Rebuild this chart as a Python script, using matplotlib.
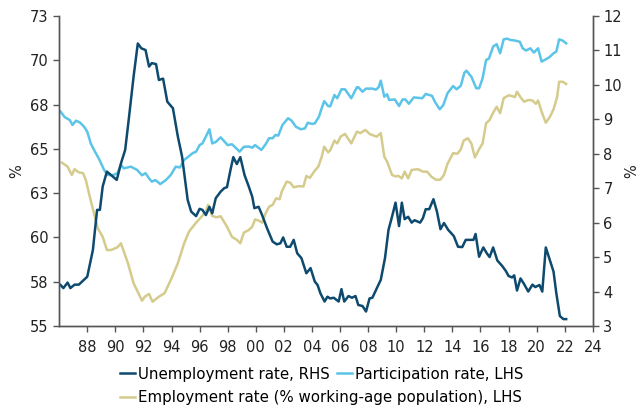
import numpy as np
import matplotlib.pyplot as plt
from matplotlib.ticker import FixedLocator, FormatStrFormatter

# unemployment rate, % (right axis)
unemp_year = [1986.1, 1986.3, 1986.6, 1986.8, 1987.1, 1987.4, 1988.0, 1988.4, 1988.7, 1988.9,
              1989.1, 1989.4, 1989.7, 1990.1, 1990.4, 1990.7, 1990.95, 1991.3, 1991.6, 1991.85,
              1992.15, 1992.4, 1992.6, 1992.9, 1993.1, 1993.4, 1993.7, 1994.1, 1994.45, 1994.75,
              1995.15, 1995.4, 1995.75, 1996.0, 1996.2, 1996.45, 1996.7, 1996.9, 1997.15, 1997.5,
              1997.75, 1997.95, 1998.2, 1998.4, 1998.65, 1998.9, 1999.2, 1999.5, 1999.75, 1999.9,
              2000.2, 2000.45, 2000.8, 2001.2, 2001.5, 2001.75, 2001.95, 2002.2, 2002.45, 2002.7,
              2002.95, 2003.25, 2003.6, 2003.9, 2004.2, 2004.4, 2004.6, 2004.9, 2005.1, 2005.3,
              2005.55, 2005.9, 2006.1, 2006.3, 2006.6, 2006.85, 2007.1, 2007.3, 2007.6, 2007.85,
              2008.1, 2008.3, 2008.9, 2009.2, 2009.45, 2009.7, 2009.95, 2010.2, 2010.4, 2010.6,
              2010.85, 2011.1, 2011.3, 2011.7, 2011.9, 2012.1, 2012.35, 2012.65, 2012.9, 2013.15,
              2013.4, 2013.7, 2014.1, 2014.4, 2014.7, 2014.95, 2015.3, 2015.5, 2015.65, 2015.9,
              2016.2, 2016.45, 2016.65, 2016.9, 2017.2, 2017.55, 2017.8, 2018.0, 2018.25, 2018.4,
              2018.6, 2018.85, 2019.1, 2019.4, 2019.7, 2019.9, 2020.2, 2020.4, 2020.65, 2020.95,
              2021.2, 2021.4, 2021.65, 2021.9, 2022.1]
unemp = [4.19, 4.1, 4.26, 4.1, 4.2, 4.2, 4.43, 5.2, 6.37, 6.37,
         7.05, 7.48, 7.38, 7.24, 7.72, 8.11, 8.98, 10.24, 11.2, 11.06,
         11.01, 10.53, 10.63, 10.6, 10.14, 10.18, 9.51, 9.32, 8.5, 7.92,
         6.66, 6.32, 6.19, 6.4, 6.37, 6.22, 6.46, 6.27, 6.71, 6.9,
         7.0, 7.03, 7.53, 7.9, 7.7, 7.9, 7.38, 7.05, 6.75, 6.42,
         6.46, 6.22, 5.84, 5.45, 5.37, 5.4, 5.57, 5.3, 5.3, 5.5,
         5.11, 4.97, 4.53, 4.68, 4.29, 4.19, 3.95, 3.71, 3.85, 3.8,
         3.82, 3.71, 4.07, 3.71, 3.87, 3.82, 3.87, 3.61, 3.58, 3.42,
         3.8, 3.82, 4.34, 4.97, 5.79, 6.17, 6.58, 5.9, 6.58, 6.1,
         6.17, 6.0, 6.07, 6.0, 6.13, 6.39, 6.39, 6.68, 6.32, 5.81,
         5.99, 5.79, 5.61, 5.3, 5.29, 5.5, 5.5, 5.5, 5.67, 5.01,
         5.28, 5.11, 5.0, 5.28, 4.9, 4.74, 4.6, 4.45, 4.41, 4.47,
         4.03, 4.38, 4.22, 4.0, 4.2, 4.13, 4.19, 4.0, 5.28, 4.9,
         4.58, 3.95, 3.29, 3.2, 3.2]

# participation rate, % (left axis)
part_year = [1986.1, 1986.4, 1986.75, 1986.95, 1987.2, 1987.5, 1987.8, 1988.0, 1988.25, 1988.55,
             1988.85, 1989.2, 1989.45, 1989.8, 1990.15, 1990.4, 1990.6, 1991.1, 1991.55, 1991.9,
             1992.15, 1992.4, 1992.6, 1992.85, 1993.2, 1993.6, 1993.95, 1994.3, 1994.6, 1994.9,
             1995.2, 1995.5, 1995.75, 1996.0, 1996.2, 1996.45, 1996.7, 1996.9, 1997.15, 1997.5,
             1997.8, 1998.0, 1998.3, 1998.5, 1998.85, 1999.15, 1999.5, 1999.75, 1999.95, 2000.4,
             2000.7, 2000.95, 2001.2, 2001.4, 2001.6, 2001.9, 2002.3, 2002.55, 2002.85, 2003.2,
             2003.5, 2003.7, 2004.0, 2004.2, 2004.5, 2004.65, 2004.87, 2005.15, 2005.3, 2005.6,
             2005.8, 2006.1, 2006.35, 2006.8, 2007.2, 2007.3, 2007.6, 2007.85, 2008.3, 2008.55,
             2008.75, 2008.9, 2009.15, 2009.35, 2009.5, 2009.9, 2010.2, 2010.45, 2010.65, 2010.9,
             2011.25, 2011.85, 2012.1, 2012.55, 2012.75, 2013.1, 2013.35, 2013.65, 2014.05, 2014.3,
             2014.6, 2014.85, 2015.0, 2015.35, 2015.7, 2015.9, 2016.15, 2016.4, 2016.6, 2016.9,
             2017.15, 2017.4, 2017.65, 2017.9, 2018.15, 2018.45, 2018.8, 2019.0, 2019.25, 2019.55,
             2019.8, 2020.1, 2020.35, 2020.65, 2020.9, 2021.2, 2021.4, 2021.6, 2021.85, 2022.1]
part = [67.44, 67.12, 66.96, 66.67, 66.92, 66.8, 66.54, 66.28, 65.6, 65.12,
        64.68, 64.06, 63.77, 63.75, 63.87, 64.35, 64.15, 64.25, 64.06, 63.75,
        63.87, 63.57, 63.38, 63.47, 63.24, 63.47, 63.77, 64.25, 64.2, 64.64,
        64.83, 65.03, 65.12, 65.5, 65.6, 66.0, 66.42, 65.6, 65.68, 65.95,
        65.68, 65.5, 65.55, 65.4, 65.12, 65.4, 65.42, 65.35, 65.5, 65.22,
        65.55, 65.9, 65.9, 66.09, 66.05, 66.67, 67.06, 66.92, 66.57, 66.42,
        66.47, 66.8, 66.73, 66.76, 67.15, 67.54, 68.05, 67.77, 67.75, 68.41,
        68.22, 68.74, 68.74, 68.22, 68.86, 68.86, 68.6, 68.78, 68.78, 68.72,
        68.86, 69.24, 68.31, 68.45, 68.12, 68.15, 67.77, 68.15, 68.15, 67.9,
        68.27, 68.22, 68.47, 68.36, 68.02, 67.58, 67.82, 68.51, 68.93, 68.74,
        68.95, 69.7, 69.82, 69.47, 68.8, 68.8, 69.38, 70.44, 70.52, 71.22,
        71.36, 70.83, 71.64, 71.68, 71.6, 71.57, 71.5, 71.12, 70.99, 71.12,
        70.87, 71.12, 70.35, 70.48, 70.6, 70.83, 70.93, 71.64, 71.57, 71.41]

# employment rate, % of working-age population (left axis)
emp_year = [1986.2, 1986.6, 1986.9, 1987.1, 1987.4, 1987.7, 1987.9, 1988.15, 1988.45, 1988.75,
            1989.1, 1989.4, 1989.7, 1990.15, 1990.4, 1990.9, 1991.3, 1991.9, 1992.1, 1992.4,
            1992.65, 1993.1, 1993.5, 1993.95, 1994.45, 1994.9, 1995.25, 1995.75, 1996.1, 1996.45,
            1996.6, 1996.9, 1997.2, 1997.5, 1997.95, 1998.3, 1998.65, 1998.9, 1999.15, 1999.5,
            1999.75, 1999.95, 2000.2, 2000.45, 2000.7, 2000.95, 2001.2, 2001.45, 2001.7, 2001.85,
            2002.2, 2002.45, 2002.7, 2003.05, 2003.4, 2003.6, 2003.85, 2004.15, 2004.45, 2004.7,
            2004.87, 2005.15, 2005.3, 2005.6, 2005.8, 2006.05, 2006.35, 2006.8, 2007.2, 2007.45,
            2007.8, 2008.1, 2008.6, 2008.9, 2009.15, 2009.35, 2009.7, 2009.95, 2010.15, 2010.4,
            2010.6, 2010.85, 2011.1, 2011.55, 2011.9, 2012.2, 2012.5, 2012.85, 2013.15, 2013.4,
            2013.65, 2014.05, 2014.35, 2014.6, 2014.8, 2015.1, 2015.35, 2015.6, 2015.9, 2016.15,
            2016.4, 2016.65, 2016.9, 2017.15, 2017.4, 2017.65, 2018.0, 2018.25, 2018.45, 2018.6,
            2018.85, 2019.1, 2019.4, 2019.7, 2019.95, 2020.1, 2020.35, 2020.65, 2020.95, 2021.2,
            2021.45, 2021.6, 2021.85, 2022.1]
emp = [64.48, 64.25, 63.77, 64.1, 63.92, 63.87, 63.48, 62.61, 61.64, 60.67,
       60.18, 59.41, 59.41, 59.57, 59.8, 58.64, 57.48, 56.47, 56.7, 56.86,
       56.41, 56.7, 56.9, 57.67, 58.64, 59.8, 60.48, 61.0, 61.31, 61.64,
       62.03, 61.39, 61.31, 61.37, 60.77, 60.18, 60.0, 59.8, 60.42, 60.57,
       60.77, 61.19, 61.12, 61.0, 61.54, 61.93, 62.03, 62.41, 62.36, 62.8,
       63.38, 63.32, 63.05, 63.12, 63.1, 63.71, 63.6, 63.96, 64.25, 64.83,
       65.41, 65.08, 65.2, 65.76, 65.6, 66.0, 66.15, 65.6, 66.28, 66.2,
       66.38, 66.15, 65.99, 66.19, 64.83, 64.54, 63.77, 63.68, 63.72, 63.57,
       63.96, 63.57, 64.06, 64.1, 63.96, 63.96, 63.67, 63.48, 63.5, 63.77,
       64.41, 65.03, 65.0, 65.25, 65.76, 65.9, 65.6, 64.79, 65.26, 65.6,
       66.77, 66.96, 67.38, 67.73, 67.35, 68.22, 68.39, 68.35, 68.28, 68.6,
       68.28, 68.02, 68.12, 68.09, 67.9, 68.09, 67.44, 66.8, 67.15, 67.58,
       68.27, 69.18, 69.18, 69.05]

c_unemp = '#0d4a6e'
c_part = '#5bc4e8'
c_emp = '#d4cb8c'
txt = '#222222'

plt.rcParams['font.family'] = 'DejaVu Sans'
plt.rcParams['font.size'] = 10.5

fig = plt.figure(figsize=(6.43, 4.08), dpi=100)
ax = fig.add_axes([0.092, 0.201, 0.830, 0.760])
ax2 = ax.twinx()

l_part, = ax.plot(part_year, part, color=c_part, lw=1.8)
l_emp, = ax.plot(emp_year, emp, color=c_emp, lw=1.8)
l_unemp, = ax2.plot(unemp_year, unemp, color=c_unemp, lw=1.8)

ax.set_xlim(1986, 2024)
ax.set_ylim(55, 73)
ax2.set_ylim(3, 12)

xt = np.arange(1988, 2025, 2)
ax.set_xticks(xt)
ax.set_xticklabels(['%02d' % (y % 100) for y in xt])

# left axis: 8 evenly spaced ticks, labels rounded to whole numbers
ax.yaxis.set_major_locator(FixedLocator(np.linspace(55, 73, 8)))
ax.yaxis.set_major_formatter(FormatStrFormatter('%.0f'))
ax2.set_yticks(np.arange(3, 13, 1))

for a in (ax, ax2):
    a.spines['top'].set_visible(False)
    for s in a.spines.values():
        s.set_color('#555555')
        s.set_linewidth(1.0)
    a.tick_params(colors='#555555', labelcolor=txt, length=4, width=1.0)
ax.tick_params(axis='x', pad=6)

ax.set_ylabel('%', color=txt, labelpad=4)
ax2.set_ylabel('%', color=txt, labelpad=2)

# legend: two items on the first row, one on the second
fig.legend([l_unemp, l_part], ['Unemployment rate, RHS', 'Participation rate, LHS'],
           ncol=2, loc='center left', bbox_to_anchor=(0.187, 0.083),
           frameon=False, handlelength=1.0, handletextpad=0.2,
           columnspacing=0.45, borderpad=0, borderaxespad=0, fontsize=10.8)
fig.legend([l_emp], ['Employment rate (% working-age population), LHS'],
           loc='center left', bbox_to_anchor=(0.187, 0.025),
           frameon=False, handlelength=1.0, handletextpad=0.2,
           borderpad=0, borderaxespad=0, fontsize=10.8)

fig.savefig('out.png', dpi=100)
